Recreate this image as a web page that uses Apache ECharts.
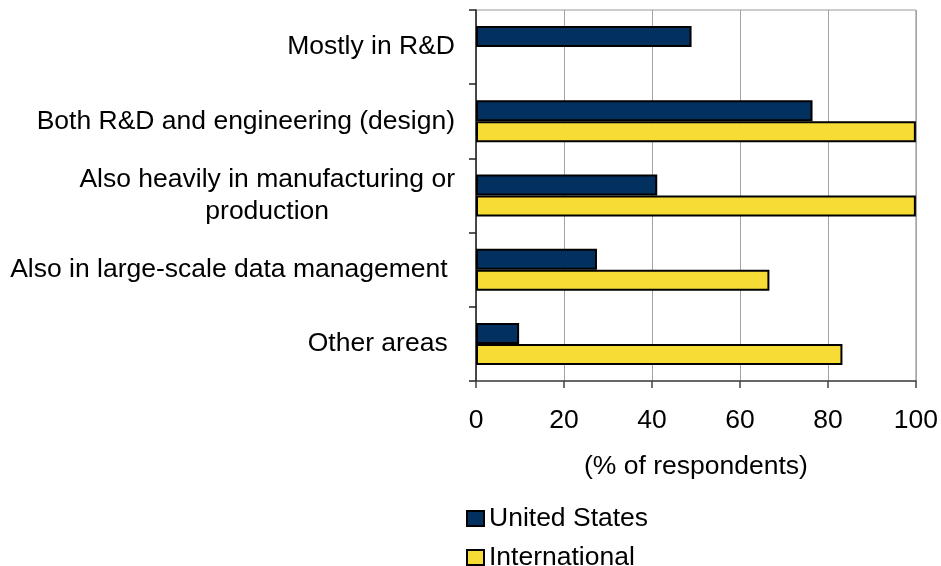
<!DOCTYPE html>
<html>
<head>
<meta charset="utf-8">
<script src="https://cdn.jsdelivr.net/npm/echarts@6/dist/echarts.min.js"></script>
<style>
  html, body { margin: 0; padding: 0; background: #fff; }
  #chart { width: 941px; height: 566px; }
</style>
</head>
<body>
<div id="chart"></div>
<script>
// Where engineering work is concentrated, share of respondents (%)
const categories = [
  'Mostly in R&D',
  'Both R&D and engineering (design)',
  'Also heavily in manufacturing or\nproduction',
  'Also in large-scale data management ',
  'Other areas '
];
const seriesNames = ['United States', 'International'];
const usValues = [49.0, 76.5, 41.2, 27.5, 9.8];
const intlValues = [null, 100, 100, 66.7, 83.3];
const xTicks = { min: 0, max: 100, step: 20 };
const xAxisTitle = '(% of respondents)';

const FONT = '"Liberation Sans", Arial, sans-serif';
const FS = 26.5;
const chart = echarts.init(document.getElementById('chart'), null, { renderer: 'canvas' });

chart.setOption({
  animation: false,
  backgroundColor: '#ffffff',
  textStyle: { fontFamily: FONT, color: '#000' },
  grid: {
    left: 476, right: 25, top: 10, bottom: 185,
    show: true, borderColor: '#999', borderWidth: 1, backgroundColor: 'transparent'
  },
  legend: {
    orient: 'vertical',
    left: 466, top: 505, height: 90,
    padding: 0,
    itemWidth: 17, itemHeight: 15, itemGap: 12,
    icon: 'rect',
    textStyle: { fontFamily: FONT, fontSize: FS, color: '#000' },
    data: seriesNames
  },
  xAxis: {
    type: 'value',
    min: xTicks.min, max: xTicks.max, interval: xTicks.step,
    name: xAxisTitle,
    nameLocation: 'middle',
    nameGap: 72,
    nameTextStyle: { fontFamily: FONT, fontSize: FS, color: '#000' },
    axisLine: { show: true, lineStyle: { color: '#444', width: 1.5 } },
    axisTick: { show: true, length: 7, lineStyle: { color: '#444', width: 1.5 } },
    axisLabel: { fontFamily: FONT, fontSize: FS, color: '#000', margin: 26 },
    splitLine: { show: true, lineStyle: { color: '#a3a3a3', width: 1 } }
  },
  yAxis: {
    type: 'category',
    inverse: true,
    data: categories,
    axisLine: { show: true, lineStyle: { color: '#222', width: 1.5 } },
    axisTick: { show: true, length: 7, alignWithLabel: false, lineStyle: { color: '#222', width: 1.5 } },
    axisLabel: {
      margin: 21,
      formatter: function (v) {
        return v.split('\n').map(function (l) { return '{c|' + l + '}'; }).join('\n');
      },
      rich: {
        c: { fontFamily: FONT, fontSize: FS, color: '#000', align: 'center', lineHeight: 32 }
      }
    },
    splitLine: { show: false }
  },
  series: [
    {
      name: seriesNames[0],
      type: 'bar',
      data: usValues,
      barWidth: 21,
      barGap: '0%',
      itemStyle: { color: '#02305f', borderColor: '#000', borderWidth: 2 }
    },
    {
      name: seriesNames[1],
      type: 'bar',
      data: intlValues,
      barWidth: 21,
      barGap: '0%',
      itemStyle: { color: '#f7dc35', borderColor: '#000', borderWidth: 2 }
    }
  ]
});
</script>
</body>
</html>
